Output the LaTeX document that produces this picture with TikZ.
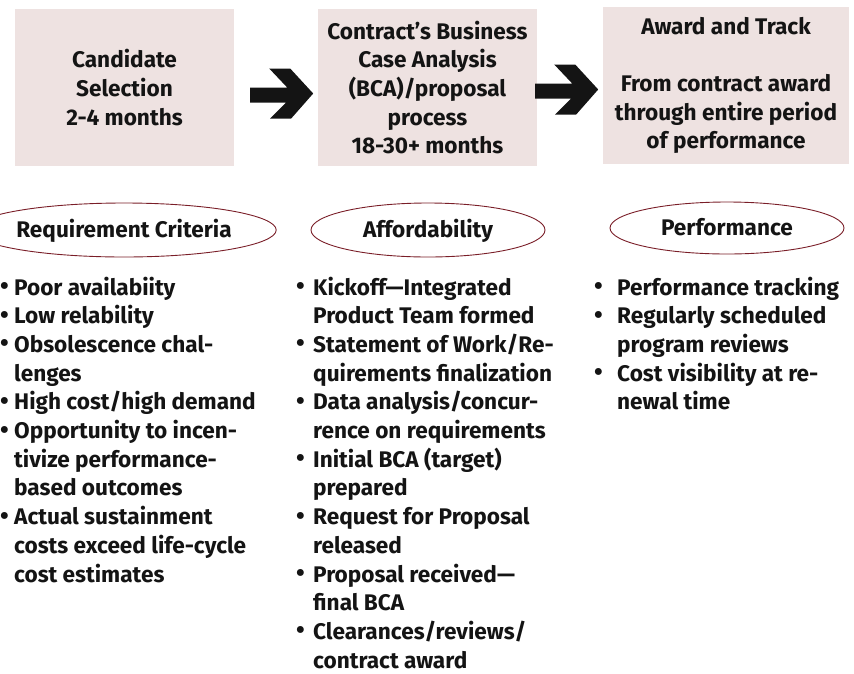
\documentclass[tikz,border=0pt]{standalone}
\usepackage{fontspec}
\setmainfont{Fira Sans}
\usetikzlibrary{shapes.geometric,calc}
\definecolor{boxfill}{RGB}{238,226,225}
\definecolor{ellred}{RGB}{122,30,40}
\definecolor{ink}{RGB}{20,20,20}
\newcommand{\bl}[1]{\makebox[#1][l]{\raisebox{0.5pt}{\fontsize{25pt}{25pt}\selectfont\textbullet}}}
\begin{document}
\begin{tikzpicture}[x=1pt,y=-1pt,
  every node/.style={font=\fontsize{22.6}{28.7}\selectfont\bfseries, text=ink},
  stagebox/.style={fill=boxfill, draw=none, align=center, inner sep=0pt, minimum height=157pt},
  topic/.style={ellipse, draw=ellred, line width=0.9pt, inner sep=0pt, minimum height=54pt, text height=17pt, text depth=3pt},
  blist/.style={anchor=base west, inner sep=0pt},
  blockarrow/.style={fill=ink, draw=none}]
\useasboundingbox (0,0) rectangle (854,673);

\node[stagebox, minimum width=219pt] (b1) at (124.5,87.5) {Candidate\\Selection\\2-4 months};
\node[stagebox, minimum width=219pt] (b2) at (427.5,87.5) {Contract’s Business\\Case Analysis\\(BCA)/proposal\\process\\18-30+ months};
\node[stagebox, minimum width=246pt] (b3) at (726,85.5) {Award and Track\\\mbox{}\\From contract award\\through entire period\\of performance};

\coordinate (a1) at ($(b1.east)+(16,0)$);
\coordinate (a2) at ($(b2.east)+(-2,-4)$);
\foreach \a in {a1,a2}{
  \fill[blockarrow] (\a) -- ++(37,0) -- ++(-18,-19) -- ++(21,0) -- ++(23,25) -- ++(-22,25) -- ++(-21,0) -- ++(16,-16) -- ++(-36,0) -- cycle;
}

\node[topic, minimum width=232pt] (e1) at (124,230) {Requirement Criteria};
\node[topic, minimum width=234pt] (e2) at (428,230) {Affordability};
\node[topic, minimum width=234pt, minimum height=52pt] (e3) at (727,228) {Performance};

\node[blist] (l1) at (0,295) {\begin{tabular}[t]{@{}l@{}l@{}}
\bl{14pt} & Poor availabiity\\
\bl{14pt} & Low relability\\
\bl{14pt} & Obsolescence chal-\\
 & lenges\\
\bl{14pt} & High cost/high demand\\
\bl{14pt} & Opportunity to incen-\\
 & tivize performance-\\
 & based outcomes\\
\bl{14pt} & Actual sustainment\\
 & costs exceed life-cycle\\
 & cost estimates
\end{tabular}};

\node[blist] (l2) at (296,295) {\begin{tabular}[t]{@{}l@{}l@{}}
\bl{17pt} & Kickoff—Integrated\\
 & Product Team formed\\
\bl{17pt} & Statement of Work/Re-\\
 & quirements finalization\\
\bl{17pt} & Data analysis/concur-\\
 & rence on requirements\\
\bl{17pt} & Initial BCA (target)\\
 & prepared\\
\bl{17pt} & Request for Proposal\\
 & released\\
\bl{17pt} & Proposal received—\\
 & final BCA\\
\bl{17pt} & Clearances/reviews/\\
 & contract award
\end{tabular}};

\node[blist] (l3) at (594,295) {\begin{tabular}[t]{@{}l@{}l@{}}
\bl{23pt} & Performance tracking\\
\bl{23pt} & Regularly scheduled\\
 & program reviews\\
\bl{23pt} & Cost visibility at re-\\
 & newal time
\end{tabular}};
\end{tikzpicture}
\end{document}
